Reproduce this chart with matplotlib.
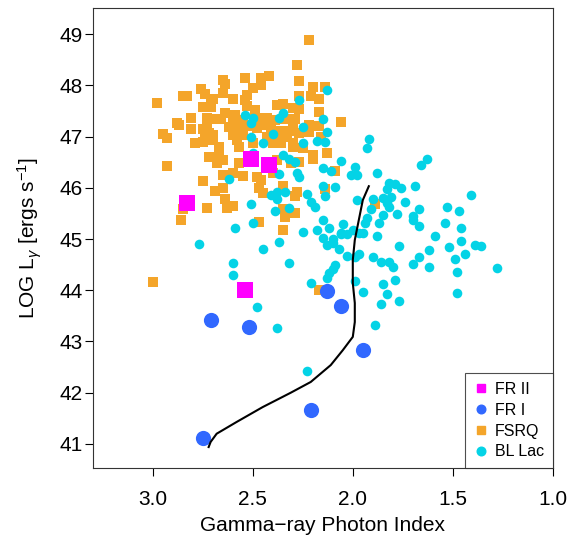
import numpy as np
import matplotlib
matplotlib.use("Agg")
import matplotlib.pyplot as plt
from matplotlib.lines import Line2D

plt.rcParams['font.family'] = ['Liberation Sans', 'DejaVu Sans']
plt.rcParams['mathtext.fontset'] = 'custom'
plt.rcParams['mathtext.rm'] = 'Liberation Sans'
plt.rcParams['mathtext.it'] = 'Liberation Sans:italic'

# FSRQ (photon index, log L)
fsrq_idx = [2.22, 2.28, 2.27, 2.65, 2.64, 2.54, 2.46, 2.42, 2.46, 2.50, 2.20, 2.14, 2.76, 2.74,
            2.65, 2.53, 2.85, 2.83, 2.60, 2.54, 2.70, 2.27, 2.21, 2.17, 2.98, 2.71, 2.53, 2.75,
            2.71, 2.38, 2.35, 2.30, 2.27, 2.49, 2.17, 2.64, 2.59, 2.81, 2.73, 2.71, 2.66, 2.60,
            2.55, 2.48, 2.43, 2.45, 2.39, 2.34, 2.29, 2.30, 2.88, 2.87, 2.81, 2.75, 2.73, 2.62,
            2.58, 2.53, 2.48, 2.41, 2.37, 2.32, 2.22, 2.22, 2.17, 2.06, 2.95, 2.93, 2.72, 2.70,
            2.60, 2.55, 2.43, 2.38, 2.33, 2.27, 2.79, 2.75, 2.70, 2.67, 2.58, 2.50, 2.40, 2.36,
            2.30, 2.30, 2.16, 2.25, 2.20, 2.13, 2.20, 2.57, 2.67, 2.72, 2.68, 2.65, 2.68, 2.93,
            2.57, 2.38, 2.27, 2.31, 2.60, 2.65, 2.55, 2.48, 2.40, 2.09, 2.75, 2.46, 2.69, 2.65,
            2.47, 2.45, 2.35, 2.28, 2.29, 2.14, 2.64, 2.60, 2.63, 2.73, 2.85, 2.35, 2.34, 2.29,
            2.86, 2.47, 2.35, 1.89, 2.17, 3.00, 2.74]
fsrq_lum = [48.88, 48.40, 48.08, 48.10, 48.02, 48.14, 48.14, 48.18, 48.00, 47.95, 47.97, 47.97,
            47.93, 47.83, 47.85, 47.81, 47.79, 47.79, 47.73, 47.71, 47.73, 47.79, 47.79, 47.73,
            47.65, 47.65, 47.60, 47.58, 47.58, 47.61, 47.63, 47.56, 47.54, 47.52, 47.48, 47.46,
            47.42, 47.36, 47.36, 47.34, 47.34, 47.26, 47.32, 47.36, 47.36, 47.22, 47.32, 47.34,
            47.34, 47.20, 47.26, 47.22, 47.15, 47.15, 47.19, 47.19, 47.20, 47.20, 47.17, 47.17,
            47.11, 47.11, 47.22, 47.09, 47.20, 47.28, 47.05, 46.97, 47.07, 47.03, 47.03, 47.03,
            46.99, 47.03, 46.99, 47.07, 46.87, 46.89, 46.93, 46.80, 46.93, 46.87, 46.87, 46.87,
            46.87, 46.80, 46.99, 46.78, 46.64, 46.68, 46.56, 46.80, 46.68, 46.60, 46.60, 46.54,
            46.48, 46.42, 46.48, 46.54, 46.50, 46.48, 46.29, 46.25, 46.23, 46.21, 46.29, 46.33,
            46.13, 46.15, 45.94, 46.00, 46.00, 45.90, 46.03, 45.92, 45.84, 45.98, 45.78, 45.64,
            45.60, 45.60, 45.59, 45.59, 45.43, 45.51, 45.37, 45.33, 45.18, 45.68, 44.00, 44.16,
            46.97]

# BL Lac
bll_idx = [2.13, 2.27, 2.54, 2.50, 2.51, 2.37, 2.35, 2.25, 2.15, 2.13, 2.40, 2.51, 2.45, 2.25,
           2.18, 2.14, 2.50, 2.35, 2.32, 2.29, 2.06, 2.37, 2.28, 2.27, 2.15, 2.11, 2.62, 2.15,
           2.09, 2.41, 2.38, 2.38, 2.34, 2.23, 2.14, 2.51, 2.32, 2.21, 2.19, 2.39, 2.15, 2.59,
           2.50, 2.12, 2.25, 2.18, 2.15, 2.10, 2.06, 2.37, 2.77, 2.45, 2.13, 2.10, 1.92, 1.93,
           1.63, 1.66, 1.99, 2.01, 1.98, 1.88, 1.82, 1.79, 1.76, 1.83, 1.69, 1.98, 1.90, 1.85,
           1.81, 1.83, 1.82, 1.74, 1.41, 1.91, 1.93, 1.94, 1.85, 1.87, 1.78, 1.67, 1.70, 1.70,
           1.67, 1.53, 1.47, 1.54, 1.46, 2.05, 2.06, 2.03, 2.00, 1.97, 1.95, 1.88, 2.07, 2.03,
           1.99, 1.97, 1.90, 1.77, 1.59, 1.52, 1.46, 1.39, 1.36, 1.62, 1.67, 1.44, 1.49, 1.70,
           1.62, 1.48, 1.28, 1.86, 1.82, 1.80, 2.32, 2.09, 2.10, 2.12, 2.13, 1.99, 2.21, 1.85,
           1.79, 1.95, 1.83, 1.77, 1.48, 1.86, 2.48, 2.38, 1.89, 2.23, 2.60, 2.60]
bll_lum = [47.91, 47.71, 47.42, 47.36, 47.26, 47.36, 47.46, 47.19, 47.34, 47.09, 47.05, 46.99,
           46.87, 46.87, 46.91, 46.89, 46.68, 46.64, 46.56, 46.50, 46.52, 46.27, 46.29, 46.21,
           46.39, 46.33, 46.17, 46.03, 46.01, 45.86, 45.78, 45.92, 45.92, 45.88, 45.84, 45.68,
           45.60, 45.72, 45.62, 45.55, 45.37, 45.21, 45.31, 45.21, 45.14, 45.18, 45.02, 45.00,
           45.12, 44.94, 44.90, 44.80, 44.88, 44.92, 46.95, 46.78, 46.56, 46.44, 46.40, 46.25,
           46.25, 46.29, 46.09, 46.07, 46.00, 45.98, 46.03, 45.76, 45.78, 45.80, 45.82, 45.70,
           45.62, 45.72, 45.86, 45.59, 45.41, 45.31, 45.47, 45.31, 45.49, 45.59, 45.45, 45.37,
           45.25, 45.62, 45.55, 45.31, 45.21, 45.29, 45.10, 45.10, 45.18, 45.12, 45.12, 45.06,
           44.80, 44.67, 44.65, 44.71, 44.65, 44.86, 45.06, 44.84, 44.96, 44.88, 44.86, 44.79,
           44.65, 44.71, 44.61, 44.51, 44.45, 44.36, 44.43, 44.55, 44.55, 44.45, 44.53, 44.49,
           44.41, 44.34, 44.24, 44.18, 44.14, 44.12, 44.20, 43.97, 43.93, 43.79, 43.95, 43.73,
           43.67, 43.26, 43.32, 42.42, 44.53, 44.30]

# FR I and FR II radio galaxies
fr1_idx = [2.13, 2.06, 2.71, 2.52, 1.95, 2.21, 2.75]
fr1_lum = [43.99, 43.69, 43.42, 43.28, 42.83, 41.66, 41.12]
fr2_idx = [2.51, 2.42, 2.83, 2.54]
fr2_lum = [46.56, 46.44, 45.70, 44.00]

# model track
track_idx = [1.92, 1.95, 1.97, 1.99, 2.00, 2.00, 1.99, 1.99, 2.00, 2.05, 2.11, 2.21, 2.31,
             2.45, 2.58, 2.68, 2.71, 2.72]
track_lum = [46.03, 45.76, 45.37, 44.98, 44.59, 44.14, 43.75, 43.38, 43.09, 42.83, 42.54,
             42.21, 42.00, 41.72, 41.43, 41.20, 41.04, 40.94]

c_fsrq = '#F4A52A'
c_bll = '#04D3E6'
c_fr1 = '#3168FF'
c_fr2 = '#FF00FF'

fig = plt.figure(figsize=(5.69, 5.5), dpi=100)
ax = fig.add_axes([0.1626, 0.149, 0.8093, 0.8357])

ax.scatter(fsrq_idx, fsrq_lum, marker='s', s=42, color=c_fsrq, linewidths=0, zorder=2)
ax.scatter(bll_idx, bll_lum, marker='o', s=48, color=c_bll, linewidths=0, zorder=3)
ax.scatter(fr2_idx, fr2_lum, marker='s', s=117, color=c_fr2, linewidths=0, zorder=4)
ax.scatter(fr1_idx, fr1_lum, marker='o', s=120, color=c_fr1, linewidths=0, zorder=4)
ax.plot(track_idx, track_lum, color='black', lw=1.5, zorder=5)

ax.set_xlim(3.3, 1.0)
ax.set_ylim(40.53, 49.5)
ax.set_xticks([3.0, 2.5, 2.0, 1.5, 1.0])
ax.set_xticklabels(['3.0', '2.5', '2.0', '1.5', '1.0'])
ax.set_yticks(range(41, 50))
ax.tick_params(axis='both', direction='out', length=5.5, width=0.8, labelsize=15)
ax.tick_params(axis='x', pad=10)
ax.tick_params(axis='y', pad=1.8)
for sp in ax.spines.values():
    sp.set_linewidth(0.8)
    sp.set_color('#333333')

ax.set_xlabel('Gamma\u2212ray Photon Index', fontsize=15)
ax.xaxis.set_label_coords(0.5, -0.1245)
ax.xaxis.label.set_va('center')
ax.set_ylabel(r'LOG L$_\gamma$ [ergs s$^{-1}$]', fontsize=15)
ax.yaxis.set_label_coords(-0.136, 0.5)
ax.yaxis.label.set_va('center')

handles = [
    Line2D([], [], ls='none', marker='s', ms=5.8, color=c_fr2, label='FR II'),
    Line2D([], [], ls='none', marker='o', ms=6.2, color=c_fr1, label='FR I'),
    Line2D([], [], ls='none', marker='s', ms=5.8, color=c_fsrq, label='FSRQ'),
    Line2D([], [], ls='none', marker='o', ms=6.2, color=c_bll, label='BL Lac'),
]
leg = ax.legend(handles=handles, loc='lower right', fontsize=11.5, frameon=True,
                fancybox=False, borderaxespad=0, handlelength=0.9, handletextpad=0.45,
                labelspacing=0.36, borderpad=0.55)
leg.get_frame().set_edgecolor('#222222')
leg.get_frame().set_linewidth(0.8)
leg.set_zorder(10)

fig.savefig('out.png', dpi=100)
